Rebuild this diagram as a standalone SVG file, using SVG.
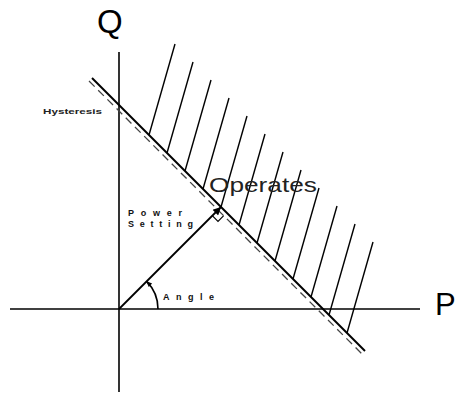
<svg xmlns="http://www.w3.org/2000/svg" width="455" height="396" viewBox="0 0 455 396">
<style>
.ax{stroke:#000;stroke-width:1.6;fill:none}
.main{stroke:#000;stroke-width:2;fill:none}
.dash{stroke:#444;stroke-width:1.3;fill:none;stroke-dasharray:8 5}
.hatch{stroke:#000;stroke-width:1.4;fill:none}
.big{font-family:"Liberation Sans",Arial,sans-serif;font-size:33px;fill:#000}
.op{font-family:"Liberation Sans",Arial,sans-serif;font-size:21px;fill:#222}
.sp{font-family:"Liberation Sans",Arial,sans-serif;font-size:9px;font-weight:bold;fill:#111}
.hy{font-family:"Liberation Sans",Arial,sans-serif;font-size:7.5px;font-weight:bold;fill:#222}
</style>
<defs>
<marker id="ah" viewBox="0 0 10 10" refX="10" refY="5" markerWidth="9" markerHeight="8" markerUnits="userSpaceOnUse" orient="auto">
<path d="M0,0 L10,5 L0,10 z" fill="#000"/>
</marker>
<marker id="ah2" viewBox="0 0 10 10" refX="9" refY="5" markerWidth="7" markerHeight="6" markerUnits="userSpaceOnUse" orient="auto">
<path d="M0,1 L10,5 L0,9 z" fill="#000"/>
</marker>
</defs>
<rect width="455" height="396" fill="#fff"/>
<g id="axes">
<line class="ax" x1="119" y1="52" x2="119" y2="392"/>
<line class="ax" x1="10" y1="309" x2="420" y2="309"/>
<text class="big" x="97" y="33">Q</text>
<text class="big" x="435" y="315" style="font-size:31px">P</text>
</g>
<g id="boundary">
<line class="main" x1="92" y1="78" x2="365" y2="351"/>
<line class="dash" x1="89" y1="81" x2="362" y2="354"/>
</g>
<g id="hatching">
<line class="hatch" x1="149" y1="135" x2="175" y2="44"/>
<line class="hatch" x1="167" y1="153" x2="193" y2="62"/>
<line class="hatch" x1="185" y1="171" x2="211" y2="80"/>
<line class="hatch" x1="203" y1="189" x2="229" y2="98"/>
<line class="hatch" x1="221" y1="207" x2="247" y2="116"/>
<line class="hatch" x1="239" y1="225" x2="265" y2="134"/>
<line class="hatch" x1="257" y1="243" x2="283" y2="152"/>
<line class="hatch" x1="275" y1="261" x2="301" y2="170"/>
<line class="hatch" x1="293" y1="279" x2="319" y2="188"/>
<line class="hatch" x1="311" y1="297" x2="337" y2="206"/>
<line class="hatch" x1="329" y1="315" x2="355" y2="224"/>
<line class="hatch" x1="347" y1="333" x2="373" y2="242"/>
</g>
<g id="labels">
<text class="hy" x="43" y="113.5" textLength="59" lengthAdjust="spacingAndGlyphs">Hysteresis</text>
<text class="op" x="209" y="192" textLength="108" lengthAdjust="spacingAndGlyphs">Operates</text>
<text class="sp" x="128" y="216" textLength="54" lengthAdjust="spacing">Power</text>
<text class="sp" x="128" y="227" textLength="65" lengthAdjust="spacing">Setting</text>
<text class="sp" x="163" y="300" textLength="51" lengthAdjust="spacing">Angle</text>
</g>
<g id="connectors">
<line class="main" style="stroke-width:1.8" x1="119" y1="309" x2="221" y2="207" marker-end="url(#ah)"/>
<polyline fill="none" stroke="#000" stroke-width="1.2" points="212.3,215.7 218,221.4 223.7,215.7"/>
<path class="ax" d="M158,309 A39,39 0 0 0 146.6,281.4" marker-end="url(#ah2)"/>
</g>
</svg>
